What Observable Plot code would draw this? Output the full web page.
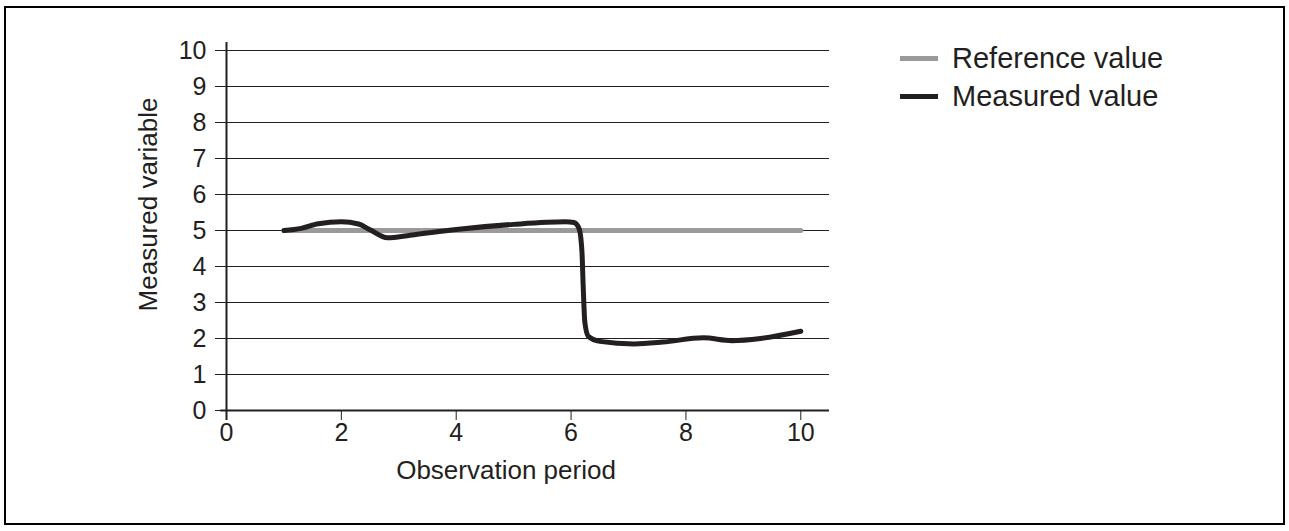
<!DOCTYPE html>
<html>
<head>
<meta charset="utf-8">
<script src="https://cdn.jsdelivr.net/npm/d3@7"></script>
<script src="https://cdn.jsdelivr.net/npm/@observablehq/plot@0.6"></script>
<style>
  html, body { margin: 0; padding: 0; background: #fff; }
  body { width: 1289px; height: 531px; position: relative; overflow: hidden;
         font-family: "Liberation Sans", Arial, Helvetica, sans-serif; }
  #frame { position: absolute; left: 4px; top: 6px; width: 1281px; height: 519px;
           border: 2px solid #000; box-sizing: border-box; }
  #chart { position: absolute; left: 0; top: 0; }
  #legend { position: absolute; left: 900px; top: 39px; font-size: 29px; color: #231f20; }
  .item { display: flex; align-items: center; height: 38px; }
  .sw { width: 38px; height: 5px; margin-right: 14px; }
</style>
</head>
<body>
<div id="frame"></div>
<div id="chart"></div>
<div id="legend"></div>
<script>
// Data
const seriesNames = ["Reference value", "Measured value"];
const seriesColors = ["#9a9a9a", "#231f20"];
const refX = [1, 10];
const refY = [5, 5];
const measX = [1.0, 1.3, 1.6, 2.0, 2.3, 2.5, 2.8, 3.2, 4.0, 5.0, 5.9, 6.05, 6.14, 6.19, 6.21, 6.24, 6.3, 6.5, 7.1, 7.6, 8.3, 8.8, 9.3, 10.0];
const measY = [5.0, 5.06, 5.19, 5.24, 5.18, 5.02, 4.8, 4.87, 5.03, 5.17, 5.24, 5.22, 5.05, 4.4, 3.5, 2.45, 2.06, 1.92, 1.85, 1.9, 2.02, 1.94, 2.0, 2.2];
const xTicks = [0, 2, 4, 6, 8, 10];
const yTicks = [0, 1, 2, 3, 4, 5, 6, 7, 8, 9, 10];
const xLabel = "Observation period";
const yLabel = "Measured variable";

const ref = refX.map((x, i) => ({x, y: refY[i]}));
const meas = measX.map((x, i) => ({x, y: measY[i]}));

const font = "Liberation Sans, Arial, Helvetica, sans-serif";

const chart = Plot.plot({
  width: 1289,
  height: 531,
  marginLeft: 226,
  marginRight: 460,
  marginTop: 50,
  marginBottom: 121,
  style: { fontFamily: font, fontSize: "25px", color: "#231f20", background: "transparent", overflow: "visible" },
  x: { domain: [0, 10.5], label: null },
  y: { domain: [0, 10], label: null },
  marks: [
    Plot.gridY(yTicks.slice(1), { stroke: "#231f20", strokeOpacity: 1, strokeWidth: 1.1 }),
    Plot.axisY({ ticks: yTicks, tickSize: 11, tickPadding: 9, fontSize: 25, label: null, tickFormat: d => String(d) }),
    Plot.axisX({ ticks: xTicks, tickSize: 10, tickPadding: 3, fontSize: 25, label: null, tickFormat: d => String(d) }),
    Plot.text([yLabel], { frameAnchor: "left", textAnchor: "middle", lineAnchor: "middle", rotate: -90,
                          dx: -78, dy: -26, fontSize: 26, fill: "#231f20" }),
    Plot.text([xLabel], { frameAnchor: "bottom", textAnchor: "middle", lineAnchor: "middle",
                          dx: -22, dy: 60, fontSize: 26, fill: "#231f20" }),
    Plot.ruleY([0], { x1: -0.1, x2: 10.5, stroke: "#231f20", strokeWidth: 2 }),
    Plot.ruleX([0], { y1: -0.28, y2: 10.22, stroke: "#231f20", strokeWidth: 2, clip: false }),
    Plot.line(ref, { x: "x", y: "y", stroke: seriesColors[0], strokeWidth: 5 }),
    Plot.line(meas, { x: "x", y: "y", stroke: seriesColors[1], strokeWidth: 5, curve: "monotone-x" })
  ]
});
document.getElementById("chart").appendChild(chart);

const legend = document.getElementById("legend");
seriesNames.forEach((name, i) => {
  const item = document.createElement("div");
  item.className = "item";
  const sw = document.createElement("div");
  sw.className = "sw";
  sw.style.background = seriesColors[i];
  const t = document.createElement("span");
  t.textContent = name;
  item.appendChild(sw);
  item.appendChild(t);
  legend.appendChild(item);
});
</script>
</body>
</html>
